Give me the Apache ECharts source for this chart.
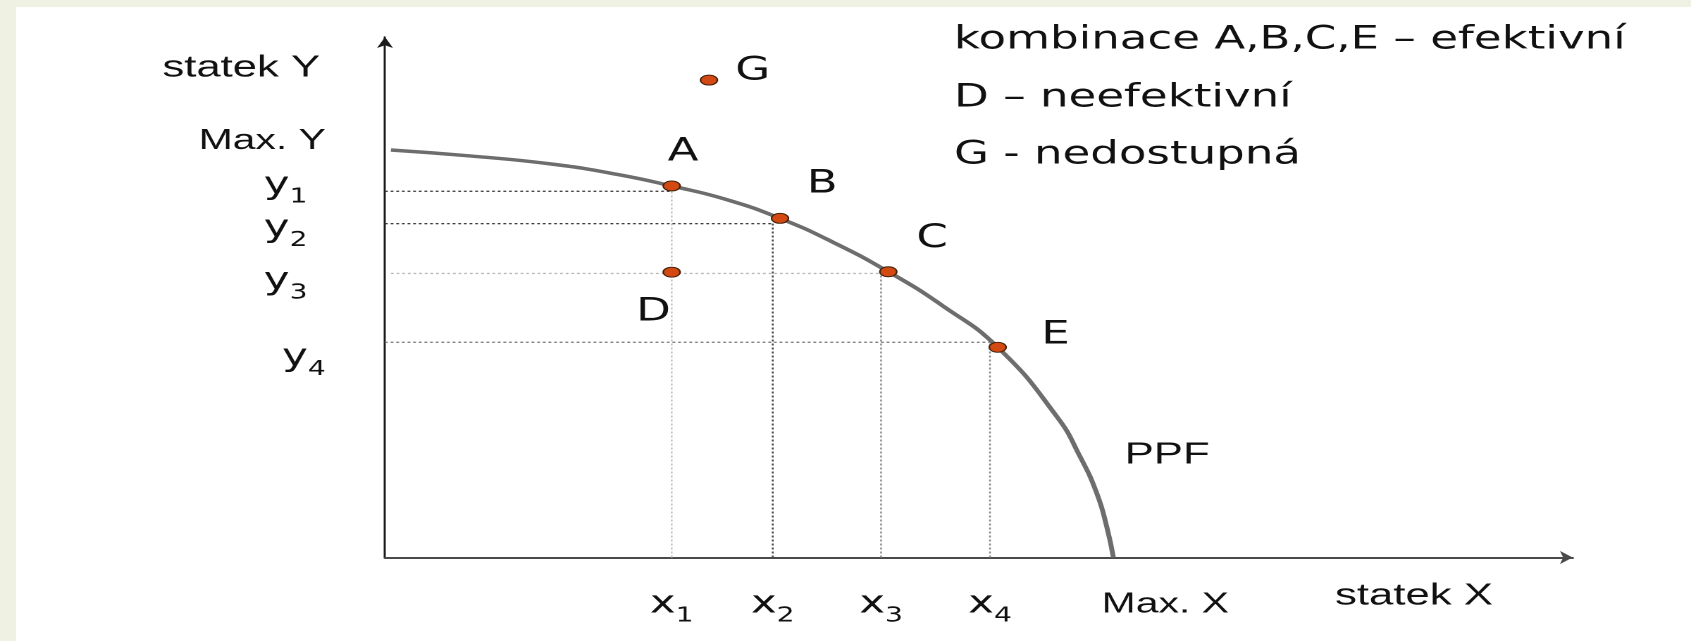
<!DOCTYPE html>
<html>
<head>
<meta charset="utf-8">
<script src="https://cdn.jsdelivr.net/npm/echarts@6/dist/echarts.min.js"></script>
<style>
  html, body { margin: 0; padding: 0; }
  body { width: 1691px; height: 641px; background: #eff2e2; position: relative; overflow: hidden; }
  #card { position: absolute; left: 16px; top: 7px; right: 0; bottom: 0; background: #fff; }
  /* the source slide is stretched sideways, so the chart is drawn narrow and widened */
  #chart { position: absolute; left: 0; top: 0; width: 1200px; height: 641px; transform: scaleX(1.40917); transform-origin: 0 0; }
</style>
</head>
<body>
<div id="card"></div>
<div id="chart"></div>
<script>
// PPF curve
let ppfX = [0.5, 7.16, 14.17, 19.79, 24.14, 28.77, 33.26, 37.75, 42.38, 47.01, 51.59, 56.56, 58.52, 59.93, 60.77, 61.33];
let ppfY = [78.3, 77.15, 75.55, 73.5, 71.38, 68.76, 65.16, 60.54, 54.9, 48.28, 40.39, 27.1, 19.4, 12.36, 5.93, 0];

// combinations
let pointNames = ['A', 'B', 'C', 'D', 'E', 'G'];
let pointX = [24.14, 33.26, 42.38, 24.14, 51.59, 27.28];
let pointY = [71.38, 65.16, 54.9, 54.82, 40.39, 91.72];

// dotted guide lines x1..x4 / y1..y4
let guideX = [24.14, 32.65, 41.77, 50.94];
let guideY = [70.36, 64.14, 54.57, 41.35];

// axis labels
let xLabelValues = [24.14, 32.65, 41.77, 50.94, 65.7];
let xTickLabels = ['x_1', 'x_2', 'x_3', 'x_4', 'Max. X'];
let yLabelValues = [80.04, 71.51, 63.17, 53.09, 38.41];
let yTickLabels = ['Max. Y', 'y_1', 'y_2', 'y_3', 'y_4'];

let notes = ['kombinace A,B,C,E – efektivní', 'D – neefektivní', 'G - nedostupná'];

/**************** helpers ************/
function closest(arr, v) {
    let best = 0;
    arr.forEach(function (a, i) {
        if (Math.abs(a - v) < Math.abs(arr[best] - v)) best = i;
    });
    return best;
}

function tickText(label, padSub) {
    if (label.indexOf('_') < 0) return '{max|' + label + '}';
    let parts = label.split('_');
    return '{main|' + parts[0] + '}{' + (padSub ? 'subPad' : 'sub') + '|' + parts[1] + '}';
}

let sans = 'Liberation Sans';
let deja = 'DejaVu Sans';

let tickRich = {
    main: { fontFamily: deja, fontSize: 31, lineHeight: 44, verticalAlign: 'middle', color: '#111' },
    sub: { fontFamily: deja, fontSize: 20, lineHeight: 20, verticalAlign: 'bottom', color: '#111' },
    subPad: { fontFamily: deja, fontSize: 20, lineHeight: 20, verticalAlign: 'bottom', color: '#111', padding: [0, 13, 0, 0] },
    max: { fontFamily: sans, fontSize: 29, lineHeight: 44, color: '#111' }
};

let labelOffsets = { A: [8, -34], B: [30, -34], C: [31, -33], D: [-13, 40], E: [41, -12], G: [31, -9] };

let hColors = ['#3c3c3c', '#3c3c3c', '#b8b8b8', '#7a7a7a'];
let vColors = ['#c4c4c4', '#4a4a4a', '#8a8a8a', '#8a8a8a'];

/**************** series ************/
let guideSeries = [];
guideX.forEach(function (gx, i) {
    guideSeries.push({
        type: 'line', silent: true, symbol: 'none', z: 1,
        data: [[i === 2 ? 0.5 : 0, guideY[i]], [gx, guideY[i]]],
        lineStyle: { color: hColors[i], width: 1.3, type: [2, 2] }
    });
    guideSeries.push({
        type: 'line', silent: true, symbol: 'none', z: 1,
        data: [[gx, 0], [gx, guideY[i]]],
        lineStyle: { color: vColors[i], width: 1.3, type: [2, 2] }
    });
});

let ppfSeries = {
    name: 'PPF',
    type: 'line',
    smooth: 0.5,
    symbol: 'none',
    z: 3,
    data: ppfX.map(function (x, i) { return [x, ppfY[i]]; }),
    lineStyle: { color: '#6d6d6d', width: 3.5 },
    endLabel: {
        show: true,
        formatter: 'PPF',
        offset: [0, -102.5],
        fontFamily: sans,
        fontSize: 31,
        color: '#111'
    }
};

let pointSeries = {
    type: 'scatter',
    z: 4,
    symbol: 'circle',
    symbolSize: [12, 10],
    itemStyle: { color: '#d24a12', borderColor: '#40200c', borderWidth: 1, opacity: 1 },
    label: {
        show: true,
        position: 'inside',
        formatter: '{b}',
        fontFamily: deja,
        fontSize: 32,
        color: '#111',
        textBorderWidth: 0
    },
    data: pointNames.map(function (n, i) {
        return { name: n, value: [pointX[i], pointY[i]], label: { offset: labelOffsets[n] } };
    })
};

let option = {
    animation: false,
    grid: { left: 273.2, right: 84, top: 37, bottom: 83.5 },
    xAxis: {
        type: 'value', min: 0, max: 100,
        splitLine: { show: false },
        axisTick: { show: false },
        axisLine: { show: true, onZero: false, symbol: ['none', 'arrow'], symbolSize: [10, 9], lineStyle: { color: '#4a4a4a', width: 2 } },
        axisLabel: {
            customValues: xLabelValues,
            margin: 25,
            formatter: function (v) { return tickText(xTickLabels[closest(xLabelValues, v)], false); },
            rich: tickRich
        },
        name: 'statek X',
        nameLocation: 'end',
        nameGap: -168.6,
        nameTextStyle: { fontFamily: sans, fontSize: 31, color: '#111', align: 'left', verticalAlign: 'top', lineHeight: 31, padding: [23, 0, 0, 0] }
    },
    yAxis: {
        type: 'value', min: 0, max: 100,
        splitLine: { show: false },
        axisTick: { show: false },
        axisLine: { show: true, onZero: false, symbol: ['none', 'arrow'], symbolSize: [8.5, 11], lineStyle: { color: '#1a1a1a', width: 1.5 } },
        axisLabel: {
            customValues: yLabelValues,
            margin: 42,
            formatter: function (v) {
                let i = closest(yLabelValues, v);
                return tickText(yTickLabels[i], i >= 1 && i <= 3);
            },
            rich: tickRich
        },
        name: 'statek Y',
        nameLocation: 'end',
        nameGap: -31,
        nameTextStyle: { fontFamily: sans, fontSize: 31, color: '#111', align: 'right', verticalAlign: 'middle', padding: [0, 46, 0, 0] }
    },
    graphic: notes.map(function (t, i) {
        return {
            type: 'text', x: 677, y: [40, 98, 155][i],
            style: { text: t, fontFamily: deja, fontSize: 32, fill: '#111', verticalAlign: 'middle' }
        };
    }),
    series: guideSeries.concat([ppfSeries, pointSeries])
};

let chartDom = document.getElementById('chart');
let chart = echarts.init(chartDom, null, { devicePixelRatio: 2 });
chart.setOption(option);
</script>
</body>
</html>
